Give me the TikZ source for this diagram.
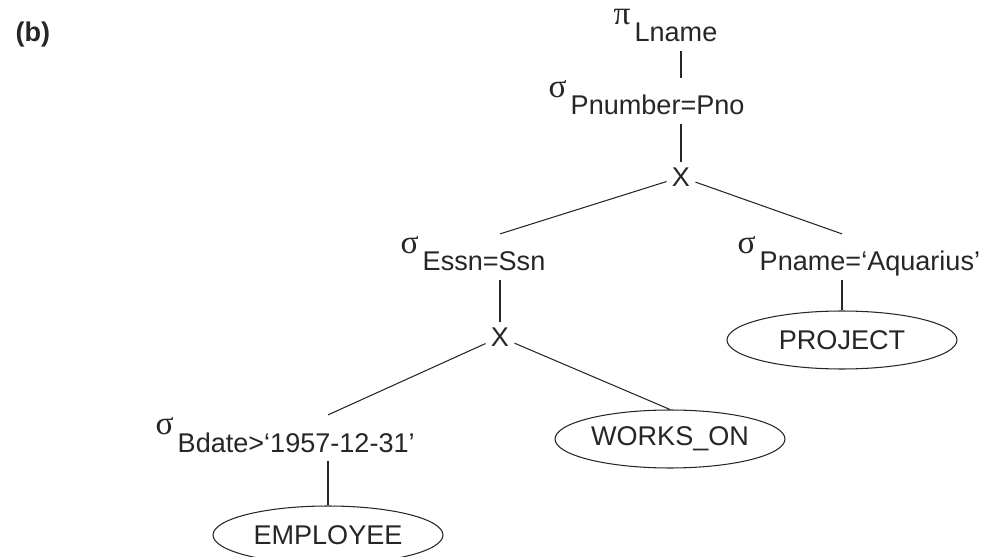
\documentclass[tikz,border=0pt]{standalone}
\usepackage{fontspec}
\setmainfont{Liberation Sans}
\newfontfamily\greekfont{Liberation Serif}
\usetikzlibrary{shapes.geometric}
\newcommand{\selop}[1]{\raisebox{10pt}{\fontsize{19}{19}\greekfont σ}\hspace{2.4pt}#1}
\newcommand{\projop}[1]{\raisebox{10pt}{\fontsize{19}{19}\greekfont π}\hspace{2.4pt}#1}
\tikzset{
    op/.style={anchor=base west, inner xsep=0pt, inner ysep=1.1pt, text depth=4pt},
    cross/.style={inner sep=2.8pt},
    rel/.style={ellipse, draw, minimum width=4.6cm, minimum height=1.16cm, inner sep=0pt}
}
\begin{document}
\begin{tikzpicture}[x=0.02cm, y=-0.02cm, line width=0.6pt, color=black!85, font={\fontsize{15.4}{18}\selectfont}]
                \useasboundingbox (0,0) rectangle (981,557);
                \node[anchor=base west, inner sep=0pt, font={\fontsize{15.4}{18}\selectfont\bfseries}] (tag) at (15,42) {(b)};
                \node[op] (lname) at (613,42) {\projop{Lname}};
                \node[op] (pnum) at (548,115) {\selop{Pnumber=Pno}};
                \node[cross] (x1) at (681,177) {X};
                \node[op] (essn) at (400,271) {\selop{Essn=Ssn}};
                \node[op] (pname) at (737,271) {\selop{Pname=‘Aquarius’}};
                \node[cross] (x2) at (500,337) {X};
                \node[rel] (project) at (842,340) {PROJECT};
                \node[op] (bdate) at (155,452) {\selop{Bdate>‘1957-12-31’}};
                \node[rel] (works) at (670,439) {WORKS\_ON};
                \node[rel] (employee) at (328,535) {EMPLOYEE};
                \draw (lname.south -| x1) -- (pnum.north -| x1);
                \draw (pnum.south -| x1) -- (x1);
                \draw (x1) -- (essn.north -| x2);
                \draw (x1) -- (pname.north -| project);
                \draw (essn.south -| x2) -- (x2);
                \draw (pname.south -| project) -- (project);
                \draw (x2) -- (bdate.north -| employee);
                \draw (x2) -- (works.north);
                \draw (bdate.south -| employee) -- (employee);
            \end{tikzpicture}
\end{document}
